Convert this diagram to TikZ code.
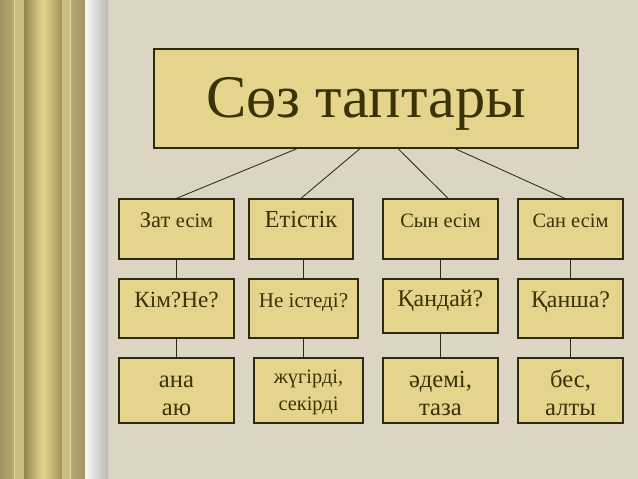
\documentclass[tikz,border=0pt]{standalone}
\usepackage{fontspec}
\setmainfont{Liberation Serif}
\definecolor{bgpaper}{HTML}{DDD5C3}
\definecolor{boxfill}{HTML}{E5D48C}
\definecolor{ink}{HTML}{3A3306}
\definecolor{lineink}{HTML}{2E2A10}
% border stripe colours
\definecolor{gold1}{RGB}{160,148,98}
\definecolor{gold2}{RGB}{184,172,116}
\definecolor{gold3}{RGB}{232,220,150}
\definecolor{gold4}{RGB}{200,188,128}
\definecolor{gold5}{RGB}{146,134,82}
\definecolor{gold6}{RGB}{228,214,140}
\definecolor{gold7}{RGB}{160,146,86}
\definecolor{gold8}{RGB}{202,190,130}
\definecolor{gold9}{RGB}{234,222,154}
\definecolor{gold10}{RGB}{182,170,116}
\definecolor{silver1}{RGB}{248,248,246}
\definecolor{silver2}{RGB}{188,186,180}
\tikzset{box/.style={draw=lineink,line width=0.9pt,fill=boxfill,text=ink,inner xsep=0pt,inner ysep=0pt}}
\tikzset{link/.style={draw=lineink,line width=0.6pt}}
\newcommand{\fs}[1]{\fontsize{#1}{#1}\selectfont}

\begin{document}
\begin{tikzpicture}[x=0.025cm,y=-0.025cm]
\useasboundingbox (0,0) rectangle (638,479);
\fill[bgpaper] (0,0) rectangle (638,479);
% left border stripes
\shade[left color=gold1,right color=gold2] (0,0) rectangle (14,479);
\fill[gold3] (14,0) rectangle (15,479);
\fill[gold4] (15,0) rectangle (24,479);
\shade[left color=gold5,right color=gold6] (24,0) rectangle (43,479);
\shade[left color=gold6,right color=gold7] (43,0) rectangle (62,479);
\fill[gold8] (62,0) rectangle (70,479);
\fill[gold9] (70,0) rectangle (71,479);
\shade[left color=gold10,right color=gold1] (71,0) rectangle (85,479);
\shade[left color=silver1,right color=silver2] (85,0) rectangle (108,479);
%
\node (title) [box,minimum width=10.6cm,text height=1.7cm,text depth=0.775cm,font=\fs{43}] at (366,98.5) {Сөз таптары\hspace{0.35cm}};
%
\node (zat) [box,minimum width=2.875cm,text height=0.7cm,text depth=0.8cm] at (176.5,229) {\fs{16}Зат \fs{14.5}есім};
\node (etistik) [box,minimum width=2.6cm,text height=0.7cm,text depth=0.8cm,font=\fs{17.4}] at (301,229) {Етістік};
\node (syn) [box,minimum width=2.875cm,text height=0.7cm,text depth=0.8cm,font=\fs{14.5}] at (440.5,229) {Сын есім};
\node (san) [box,minimum width=2.625cm,text height=0.7cm,text depth=0.8cm,font=\fs{14.5}] at (570.5,229) {Сан есім};
%
\node (kim) [box,minimum width=2.875cm,text height=0.7cm,text depth=0.775cm,font=\fs{16.5}] at (176.5,308.5) {Кім?Не?};
\node (nete) [box,minimum width=2.725cm,text height=0.7cm,text depth=0.775cm,font=\fs{15}] at (303.5,308.5) {Не істеді?};
\node (kandai) [box,minimum width=2.875cm,text height=0.675cm,text depth=0.675cm,font=\fs{17}] at (440.5,306) {Қандай?};
\node (kansha) [box,minimum width=2.625cm,text height=0.7cm,text depth=0.775cm,font=\fs{17}] at (570.5,308.5) {Қанша?};
%
\node (ana) [box,text width=2.875cm,text height=0.725cm,text depth=0.9cm,align=center,font=\fontsize{17.5}{20.6}\selectfont] at (176.5,390.5) {ана\\аю};
\node (jugirdi) [box,text width=2.725cm,text height=0.625cm,text depth=1.0cm,align=center,font=\fontsize{14.5}{19.2}\selectfont] at (308.5,390.5) {жүгірді,\\секірді};
\node (ademi) [box,text width=2.875cm,text height=0.725cm,text depth=0.9cm,align=center,font=\fontsize{17.5}{20.6}\selectfont] at (440.5,390.5) {әдемі,\\таза};
\node (bes) [box,text width=2.625cm,text height=0.725cm,text depth=0.9cm,align=center,font=\fontsize{17.5}{20.6}\selectfont] at (570.5,390.5) {бес,\\алты};
%
\path[link] ([xshift=-1.725cm]title.south) edge (zat.north);
\path[link] ([xshift=-0.15cm]title.south) edge (etistik.north);
\path[link] ([xshift=0.8cm]title.south) edge ([xshift=0.19cm]syn.north);
\path[link] ([xshift=2.225cm]title.south) edge ([xshift=-0.14cm]san.north);
%
\path[link] (zat.south) edge (kim.north);
\path[link] (nete.north) edge (nete.north |- etistik.south);
\path[link] (syn.south) edge (kandai.north);
\path[link] (san.south) edge (kansha.north);
\path[link] (kim.south) edge (ana.north);
\path[link] (nete.south) edge (nete.south |- jugirdi.north);
\path[link] (kandai.south) edge (ademi.north);
\path[link] (kansha.south) edge (bes.north);
\end{tikzpicture}
\end{document}
